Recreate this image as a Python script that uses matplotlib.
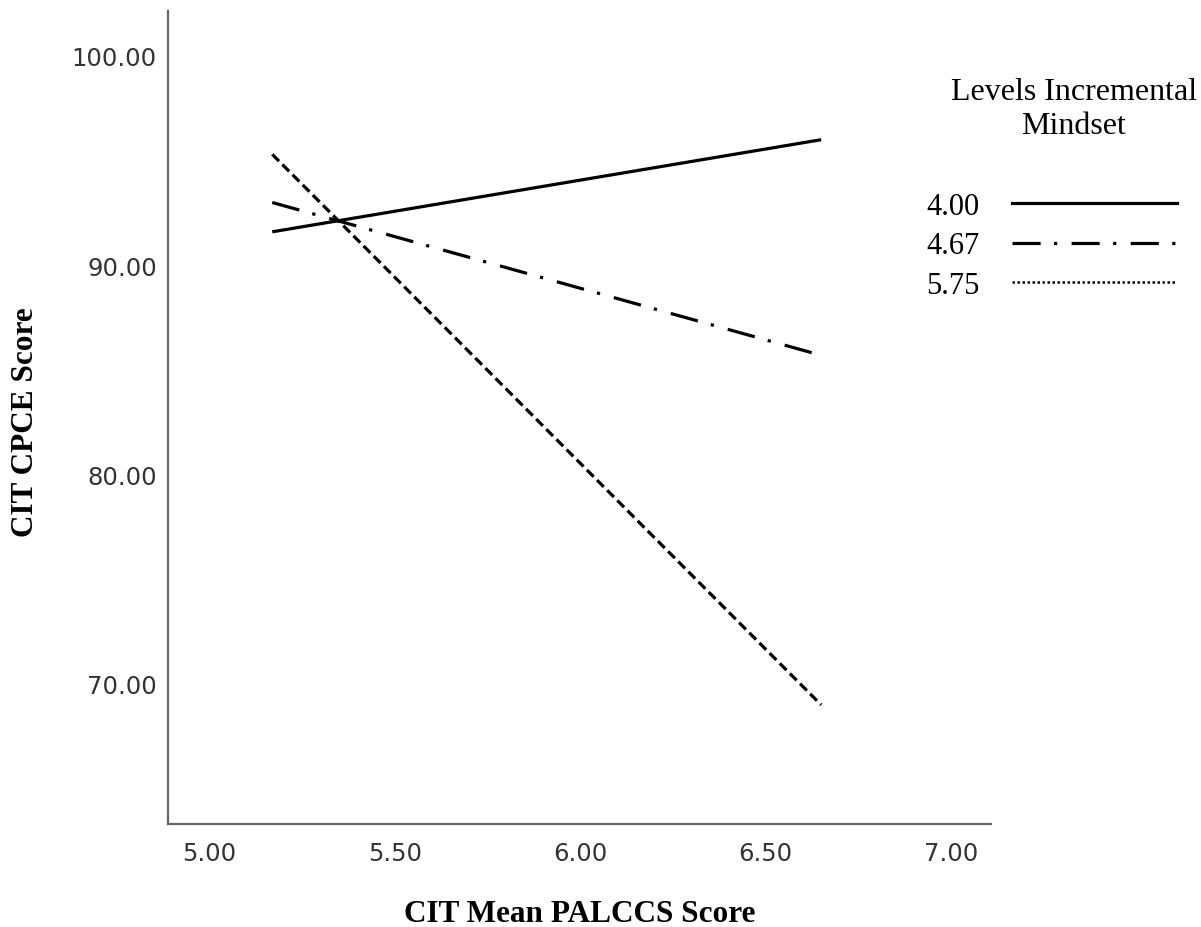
import numpy as np
from matplotlib import pyplot as plt
from matplotlib.lines import Line2D

# simple slopes: CPCE score vs PALCCS at three mindset levels
levels = ["4.00", "4.67", "5.75"]
palccs = [5.17, 6.65]
cpce_400 = [91.6, 96.0]
cpce_467 = [93.0, 85.7]
cpce_575 = [95.3, 69.0]

xticks = [5.00, 5.50, 6.00, 6.50, 7.00]
yticks = [70.00, 80.00, 90.00, 100.00]

plt.rcParams["font.family"] = ["Liberation Serif", "DejaVu Serif"]
plt.rcParams["font.size"] = 18

fig = plt.figure(figsize=(12.01, 9.28), dpi=100)
ax = fig.add_axes([0.1399, 0.111, 0.6853, 0.8761])

lw = 2.3
dashdot = (8.8, 4.2, 1, 4.5)
ax.plot(palccs, cpce_400, color="black", lw=lw, solid_capstyle="butt")
ax.plot(palccs, cpce_467, color="black", lw=lw, dashes=dashdot)
ax.plot(palccs, cpce_575, color="black", lw=lw, dashes=(3.0, 1.5))

ax.set_xlim(4.889, 7.108)
ax.set_ylim(63.31, 102.15)
ax.set_xticks(xticks)
ax.set_xticklabels([f"{v:.2f}" for v in xticks])
ax.set_yticks(yticks)
ax.set_yticklabels([f"{v:.2f}" for v in yticks])
ax.tick_params(length=0, colors="#333333", labelsize=17.5)
ax.tick_params(axis="x", pad=12)
ax.tick_params(axis="y", pad=8)
for lab in ax.get_xticklabels() + ax.get_yticklabels():
    lab.set_fontfamily("DejaVu Sans")

for side in ["top", "right"]:
    ax.spines[side].set_visible(False)
for side in ["left", "bottom"]:
    ax.spines[side].set_color("#666666")
    ax.spines[side].set_linewidth(1.6)

ax.set_xlabel("CIT Mean PALCCS Score", fontweight="bold", fontsize=22.5, va="top")
ax.xaxis.set_label_coords(0.5, -0.092)
ax.set_ylabel("CIT CPCE Score", fontweight="bold", fontsize=22.5)
ax.yaxis.set_label_coords(-0.155, 0.496)

# legend: labels on the left, line keys on the right, title above
fig.text(1074 / 1201, 1 - 109.5 / 928, "Levels Incremental\nMindset",
         ha="center", va="center", multialignment="center", fontsize=23)
handles = [
    Line2D([], [], color="black", lw=2.3),
    Line2D([], [], color="black", lw=2.3, dashes=dashdot),
    Line2D([], [], color="black", lw=1.8, dashes=(1, 1)),
]
leg = fig.legend(
    handles,
    levels,
    markerfirst=False,
    frameon=False,
    fontsize=22,
    handlelength=5.4,
    handletextpad=1.05,
    labelspacing=0.34,
    borderpad=0,
    borderaxespad=0,
    loc="upper right",
    bbox_to_anchor=(0.980, 0.792),
)

fig.savefig("out.png", dpi=100)
